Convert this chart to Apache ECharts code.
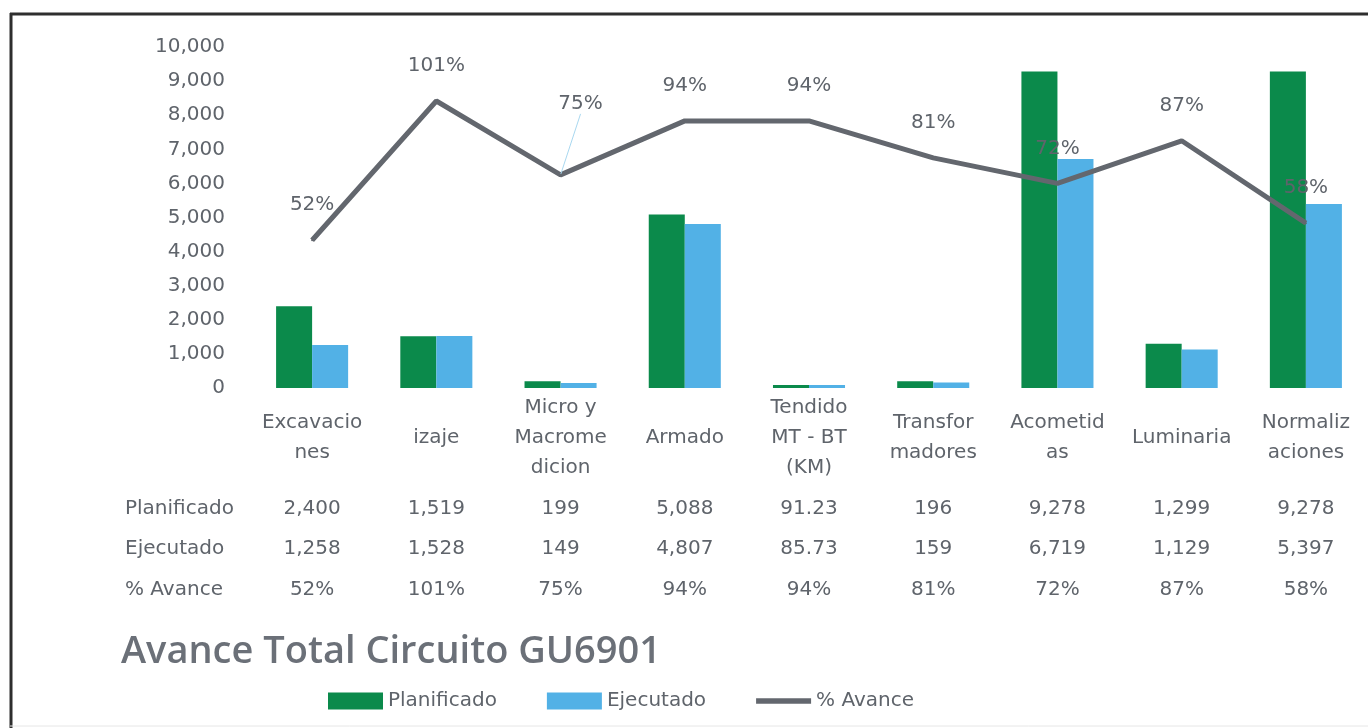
<!DOCTYPE html>
<html>
<head>
<meta charset="utf-8">
<title>Avance Total Circuito GU6901</title>
<script src="https://cdn.jsdelivr.net/npm/echarts@6/dist/echarts.min.js"></script>
<style>
    html, body { margin: 0; padding: 0; background: #fff; }
    #chart { width: 1368px; height: 728px; }
</style>
</head>
<body>
<div id="chart"></div>
<script>
// datos
var categorias = ['Excavacio\nnes', 'izaje', 'Micro y\nMacrome\ndicion', 'Armado', 'Tendido\nMT - BT\n(KM)',
    'Transfor\nmadores', 'Acometid\nas', 'Luminaria', 'Normaliz\naciones'];
var planificado = [2400, 1519, 199, 5088, 91.23, 196, 9278, 1299, 9278];
var ejecutado = [1258, 1528, 149, 4807, 85.73, 159, 6719, 1129, 5397];
var avance = [0.52, 1.01, 0.75, 0.94, 0.94, 0.81, 0.72, 0.87, 0.58];
var ejeYTicks = [0, 1000, 2000, 3000, 4000, 5000, 6000, 7000, 8000, 9000, 10000];

var gris = '#5f646b';
var fuente = 'DejaVu Sans';

function fmt(v) {
    if (v % 1 !== 0) return v.toFixed(2);
    return v.toLocaleString('en-US');
}
function pct(v) {
    return Math.round(v * 100) + '%';
}

// filas de la tabla de datos (ejes extra sin linea)
function filaTabla(nombre, offset, textos) {
    return {
        type: 'category',
        gridIndex: 0,
        position: 'bottom',
        offset: offset,
        data: categorias,
        axisLine: { show: false, onZero: false },
        axisTick: { show: false },
        axisLabel: {
            interval: 0,
            margin: 0,
            verticalAlign: 'middle',
            color: gris,
            fontFamily: fuente,
            fontSize: 20,
            formatter: function (v, i) { return textos[i]; }
        },
        name: nombre,
        nameLocation: 'start',
        nameGap: 125,
        nameTextStyle: {
            align: 'left',
            verticalAlign: 'middle',
            color: gris,
            fontFamily: fuente,
            fontSize: 20
        }
    };
}

// la etiqueta de 75% esta desplazada con linea guia en el original
var datosAvance = avance.map(function (v, i) {
    if (i === 2) return { value: v, labelLine: { show: true } };
    return v;
});

var chart = echarts.init(document.getElementById('chart'));

var option = {
    backgroundColor: '#fff',
    animation: false,
    title: {
        text: 'Avance Total Circuito GU6901',
        left: 116,
        top: 628,
        textStyle: {
            color: '#6b7078',
            fontFamily: 'Open Sans',
            fontSize: 38,
            fontWeight: 600
        }
    },
    legend: {
        left: 323,
        top: 686,
        itemWidth: 55,
        itemHeight: 17,
        itemGap: 50,
        textStyle: { color: gris, fontFamily: fuente, fontSize: 20 },
        data: [
            { name: 'Planificado', icon: 'rect' },
            { name: 'Ejecutado', icon: 'rect' },
            { name: '% Avance', icon: 'path://M0,0h60v6h-60z' }
        ]
    },
    grid: {
        left: 250,
        top: 47,
        width: 1126,
        height: 341
    },
    xAxis: [
        {
            type: 'category',
            data: categorias,
            axisLine: { show: false, onZero: false },
            axisTick: { show: false },
            axisLabel: {
                interval: 0,
                margin: 50,
                verticalAlign: 'middle',
                lineHeight: 30,
                color: gris,
                fontFamily: fuente,
                fontSize: 20
            }
        },
        filaTabla('Planificado', 121, planificado.map(fmt)),
        filaTabla('Ejecutado', 161, ejecutado.map(fmt)),
        filaTabla('% Avance', 202, avance.map(pct))
    ],
    yAxis: [
        {
            type: 'value',
            min: ejeYTicks[0],
            max: ejeYTicks[ejeYTicks.length - 1],
            interval: 1000,
            axisLine: { show: false },
            axisTick: { show: false },
            splitLine: { show: false },
            axisLabel: {
                margin: 25,
                color: gris,
                fontFamily: fuente,
                fontSize: 20,
                formatter: function (v) { return v.toLocaleString('en-US'); }
            }
        },
        {
            type: 'value',
            min: 0,
            max: 1.2,
            show: false
        }
    ],
    series: [
        {
            name: 'Planificado',
            type: 'bar',
            data: planificado,
            barGap: '0%',
            barCategoryGap: '42%',
            itemStyle: { color: '#0b8a4b' }
        },
        {
            name: 'Ejecutado',
            type: 'bar',
            data: ejecutado,
            itemStyle: { color: '#52b1e6' }
        },
        {
            name: '% Avance',
            type: 'line',
            yAxisIndex: 1,
            data: datosAvance,
            symbol: 'circle',
            symbolSize: 2,
            lineStyle: { color: '#63676e', width: 5 },
            itemStyle: { color: '#63676e' },
            label: {
                show: true,
                position: 'top',
                distance: 24,
                color: gris,
                fontFamily: fuente,
                fontSize: 20,
                formatter: function (p) { return pct(p.value); }
            },
            labelLine: {
                show: false,
                lineStyle: { color: '#a9d8f0', width: 1 }
            },
            labelLayout: function (p) {
                if (p.dataIndex === 2) return { dx: 20, dy: -36 };
                return {};
            }
        }
    ],
    graphic: [
        { type: 'line', shape: { x1: 10, y1: 14, x2: 1368, y2: 14 }, style: { stroke: '#2e2e2e', lineWidth: 3 } },
        { type: 'line', shape: { x1: 11, y1: 13, x2: 11, y2: 728 }, style: { stroke: '#2e2e2e', lineWidth: 3 } },
        { type: 'line', shape: { x1: 10, y1: 726, x2: 1368, y2: 726 }, style: { stroke: '#e6e6e6', lineWidth: 1 } }
    ]
};

chart.setOption(option);
</script>
</body>
</html>
